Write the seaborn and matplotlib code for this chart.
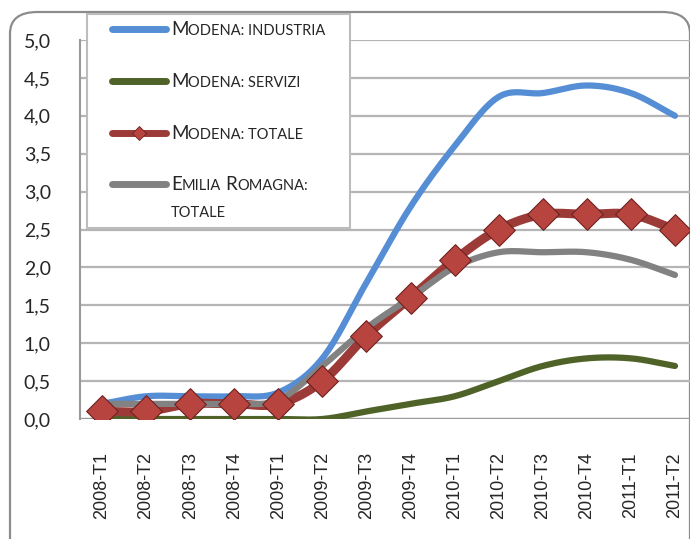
import numpy as np
import pandas as pd
import seaborn as sns
import matplotlib.pyplot as plt
from matplotlib.patches import FancyBboxPatch, Rectangle
from matplotlib.lines import Line2D

quarters = ["2008-T1", "2008-T2", "2008-T3", "2008-T4", "2009-T1", "2009-T2", "2009-T3",
            "2009-T4", "2010-T1", "2010-T2", "2010-T3", "2010-T4", "2011-T1", "2011-T2"]
industria = [0.2, 0.3, 0.3, 0.3, 0.35, 0.8, 1.8, 2.8, 3.6, 4.25, 4.3, 4.4, 4.3, 4.0]
servizi = [0.0, 0.0, 0.0, 0.0, 0.0, 0.0, 0.1, 0.2, 0.3, 0.5, 0.7, 0.8, 0.8, 0.7]
totale = [0.1, 0.1, 0.2, 0.2, 0.2, 0.5, 1.1, 1.6, 2.1, 2.5, 2.7, 2.7, 2.7, 2.5]
er_totale = [0.2, 0.2, 0.2, 0.2, 0.25, 0.7, 1.2, 1.6, 2.0, 2.2, 2.2, 2.2, 2.1, 1.9]

BLUE = "#558ED5"
GREEN = "#4F6228"
RED = "#9B3A37"
GRAY = "#828282"


def smooth(values, n=20):
    # catmull-rom curve through the points, like excel's smoothed line
    y = np.asarray(values, dtype=float)
    p = np.concatenate([[2 * y[0] - y[1]], y, [2 * y[-1] - y[-2]]])
    xs, ys = [], []
    for i in range(len(y) - 1):
        t = np.linspace(0, 1, n, endpoint=False)
        p0, p1, p2, p3 = p[i], p[i + 1], p[i + 2], p[i + 3]
        seg = 0.5 * (2 * p1 + (-p0 + p2) * t + (2 * p0 - 5 * p1 + 4 * p2 - p3) * t ** 2
                     + (-p0 + 3 * p1 - 3 * p2 + p3) * t ** 3)
        xs.extend(i + t)
        ys.extend(seg)
    xs.append(len(y) - 1)
    ys.append(y[-1])
    return pd.DataFrame({"x": xs, "y": ys})


sns.set_style("white")
fig = plt.figure(figsize=(6.9, 5.39), dpi=100)
W, H = 690, 539

# outer rounded frame of the chart
frame = FancyBboxPatch((10 / W, -20 / H), 680 / W, (527 + 20) / H,
                       boxstyle="round,pad=0,rounding_size=0.04", transform=fig.transFigure,
                       fc="none", ec="#8C8C8C", lw=1.6, zorder=-1)
fig.patches.append(frame)

ax = fig.add_axes([80 / W, 1 - 419 / H, 617 / W, 379 / H])
ax.patch.set_alpha(0)
ax.set_zorder(1)

series = [(industria, BLUE, 4.5), (servizi, GREEN, 4.5), (totale, RED, 6.5), (er_totale, GRAY, 4.5)]
for vals, col, lw in series:
    d = smooth(vals)
    sns.lineplot(data=d, x="x", y="y", ax=ax, color=col, lw=lw, sort=False,
                 estimator=None, solid_capstyle="round", zorder=3)
    if vals is totale:
        pts = pd.DataFrame({"x": np.arange(len(quarters)), "y": totale})
        sns.scatterplot(data=pts, x="x", y="y", ax=ax, marker="D", s=260,
                        color="#B8443F", edgecolor="#6E2220", linewidth=0.8, zorder=4)

ax.set_xlim(-0.5, 13.5)
ax.set_ylim(0, 5)
ax.set_yticks(np.arange(0, 5.01, 0.5))
ax.set_yticklabels([f"{v:.1f}".replace(".", ",") for v in np.arange(0, 5.01, 0.5)],
                   fontfamily="Lato", fontsize=14)
ax.set_xticks(np.arange(len(quarters)))
ax.set_xticklabels(quarters, rotation=90, fontfamily="Liberation Sans", fontsize=13)
ax.set_xticks(np.arange(-0.5, 13.6, 1), minor=True)
ax.tick_params(axis="x", which="major", length=0, pad=24)
ax.tick_params(axis="x", which="minor", length=6, width=1.5, color="#9A9A9A", direction="out")
ax.tick_params(axis="y", length=7, width=1.5, color="#9A9A9A", pad=14, direction="out")
ax.set_xlabel("")
ax.set_ylabel("")
ax.grid(axis="y", color="#B5B5B5", lw=1.6, zorder=0)
ax.grid(axis="x", visible=False)
for s in ["top", "right", "bottom"]:
    ax.spines[s].set_visible(False)
ax.spines["left"].set_color("#9A9A9A")
ax.spines["left"].set_linewidth(1.5)
ax.axhline(0, color="#9A9A9A", lw=1.6, zorder=1)

# legend box drawn by hand, with small caps labels
fig.patches.append(Rectangle((87 / W, 1 - 228 / H), 263 / W, 214 / H, transform=fig.transFigure,
                             fc="white", ec="#BDBDBD", lw=1.5, zorder=5))
rows = [(29, BLUE, [("M", 1), ("ODENA: INDUSTRIA", 0)]),
        (81, GREEN, [("M", 1), ("ODENA: SERVIZI", 0)]),
        (133, RED, [("M", 1), ("ODENA: TOTALE", 0)]),
        (184, GRAY, [("E", 1), ("MILIA", 0), (" ", 0), ("R", 1), ("OMAGNA:", 0)])]
for y, col, parts in rows:
    fig.lines.append(Line2D([112 / W, 166 / W], [1 - y / H] * 2, transform=fig.transFigure,
                            color=col, lw=5, solid_capstyle="round", zorder=6))
    if col == RED:
        fig.lines.append(Line2D([139 / W], [1 - y / H], transform=fig.transFigure, marker="D",
                                ms=7, color="#B8443F", mec="#6E2220", mew=0.6, zorder=7))

fig.canvas.draw()
renderer = fig.canvas.get_renderer()
for y, col, parts in rows:
    x = 171
    for txt, big in parts:
        if txt == " ":
            x += 4
            continue
        t = fig.text(x / W, 1 - (y + 6) / H, txt, fontfamily="Lato", fontsize=13.5 if big else 10.5,
                     va="baseline", ha="left", zorder=8)
        x = t.get_window_extent(renderer).x1
fig.text(171 / W, 1 - 217 / H, "TOTALE", fontfamily="Lato", fontsize=10.5, va="baseline",
         ha="left", zorder=8)

plt.savefig("out.png", dpi=100)
